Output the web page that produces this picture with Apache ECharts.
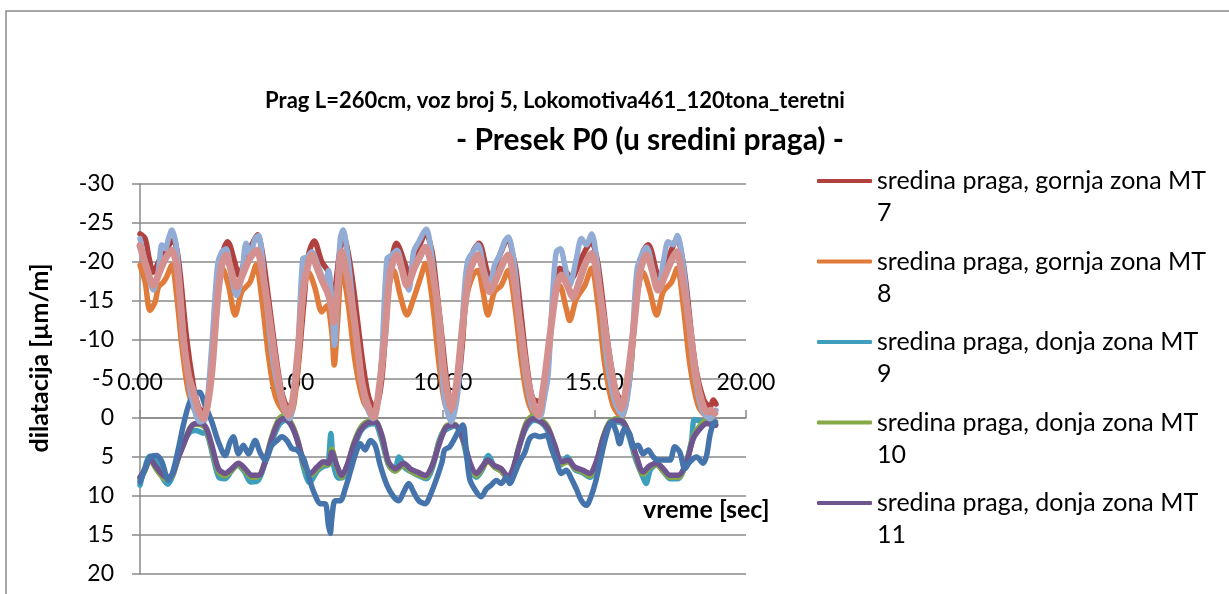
<!DOCTYPE html>
<html>
<head>
<meta charset="utf-8">
<script src="https://cdn.jsdelivr.net/npm/echarts@6/dist/echarts.min.js"></script>
<style>
  html, body { margin: 0; padding: 0; background: #fff; }
  #chart { width: 1229px; height: 594px; }
</style>
</head>
<body>
<div id="chart"></div>
<script>
// Text
const titleLine1 = 'Prag L=260cm, voz broj 5, Lokomotiva461_120tona_teretni';
const titleLine2 = '- Presek P0 (u sredini praga) -';
const xAxisTitle = 'vreme [sec]';
const yAxisTitle = 'dilatacija [µm/m]';

// Axis ranges (y axis runs from -30 at the top to 20 at the bottom)
const xRange = [0, 20, 5];
const yRange = [-30, 20, 5];

// Series names
const seriesNames = [
  'sredina praga, gornja zona MT 7',
  'sredina praga, gornja zona MT 8',
  'sredina praga, donja zona MT 9',
  'sredina praga, donja zona MT 10',
  'sredina praga, donja zona MT 11',
  'sredina praga, donja zona MT 12',
  'sredina praga, gornja zona MT 13',
  'sredina praga, gornja zona MT 14'
];

// [time s, strain µm/m]
const mt7 = [[0,-23.6],[0.17,-23.0],[0.3,-20.5],[0.44,-18.7],[0.66,-20.4],[0.88,-21.7],[1.1,-22.8],[1.22,-21.5],[1.32,-18.7],[1.54,-10.2],[1.76,-4.2],[1.9,-1.8],[2.04,-0.8],[2.2,-1.6],[2.32,-4.5],[2.42,-9.3],[2.64,-18.7],[2.75,-21.5],[2.89,-22.6],[3.14,-19.8],[3.25,-18.3],[3.52,-20.9],[3.7,-22.3],[3.88,-23.5],[4.0,-22.0],[4.13,-18.7],[4.41,-10.2],[4.63,-4.2],[4.78,-2.0],[4.9,-1.4],[5.12,-3.3],[5.4,-14.4],[5.56,-20.9],[5.75,-22.7],[6.0,-20.0],[6.22,-18.7],[6.39,-15.0],[6.5,-18.5],[6.61,-21.7],[6.74,-23.0],[6.88,-21.0],[7.05,-16.6],[7.32,-8.0],[7.5,-3.5],[7.6,-2.1],[7.76,-1.2],[7.98,-5.0],[8.2,-16.6],[8.32,-20.5],[8.46,-22.4],[8.76,-19.6],[8.87,-18.3],[9.14,-21.3],[9.45,-23.6],[9.6,-22.0],[9.69,-20.0],[9.97,-10.2],[10.1,-5.5],[10.27,-2.1],[10.49,-4.2],[10.65,-10.0],[10.77,-16.6],[10.99,-21.3],[11.19,-22.4],[11.43,-19.2],[11.54,-17.9],[11.82,-20.4],[12.15,-23.0],[12.3,-21.0],[12.42,-18.7],[12.7,-8.9],[12.85,-4.5],[12.97,-2.5],[13.19,-2.1],[13.41,-5.0],[13.63,-14.4],[13.85,-19.2],[14.07,-18.7],[14.24,-17.9],[14.51,-20.0],[14.7,-21.5],[14.9,-22.6],[15.05,-21.0],[15.17,-18.3],[15.45,-9.3],[15.72,-3.3],[15.94,-2.1],[16.16,-5.0],[16.39,-16.2],[16.6,-21.3],[16.77,-22.2],[17.05,-18.7],[17.16,-17.4],[17.43,-20.4],[17.73,-23.0],[17.9,-20.5],[18.04,-16.6],[18.31,-7.2],[18.59,-2.5],[18.81,-1.4],[18.92,-2.3],[19.01,-1.8]];

const mt8 = [[0,-19.6],[0.17,-17.4],[0.33,-13.8],[0.5,-14.9],[0.61,-16.8],[0.77,-17.4],[0.88,-18.1],[1.05,-19.6],[1.21,-15.7],[1.38,-9.3],[1.6,-3.3],[1.87,-0.35],[2.09,0.5],[2.31,-4.2],[2.53,-14.4],[2.73,-19.2],[2.92,-17.0],[3.14,-13.2],[3.36,-16.2],[3.63,-17.4],[3.83,-19.6],[4.02,-15.3],[4.24,-8.0],[4.46,-2.9],[4.74,-0.8],[4.96,-0.35],[5.18,-5.0],[5.4,-16.2],[5.56,-18.7],[5.78,-16.6],[6.0,-13.6],[6.17,-14.4],[6.33,-11.0],[6.41,-6.8],[6.52,-12.3],[6.66,-19.2],[6.88,-14.4],[7.1,-7.2],[7.38,-2.1],[7.71,-0.35],[7.98,-7.2],[8.2,-16.6],[8.37,-18.9],[8.59,-15.7],[8.81,-13.2],[9.03,-15.3],[9.25,-17.9],[9.42,-19.8],[9.64,-15.3],[9.86,-7.2],[10.05,-2.1],[10.27,0.0],[10.55,-6.8],[10.77,-15.3],[10.99,-18.3],[11.15,-18.9],[11.32,-16.2],[11.48,-13.2],[11.7,-16.2],[11.92,-17.0],[12.15,-18.9],[12.37,-14.4],[12.59,-7.2],[12.81,-2.1],[13.08,-0.1],[13.36,-3.3],[13.63,-14.4],[13.85,-17.0],[14.07,-14.0],[14.18,-12.5],[14.4,-15.3],[14.68,-17.0],[14.9,-19.2],[15.12,-14.4],[15.34,-6.8],[15.61,-1.6],[15.89,-0.1],[16.16,-5.0],[16.39,-15.3],[16.6,-18.7],[16.83,-16.2],[17.05,-13.2],[17.27,-16.2],[17.54,-17.4],[17.73,-19.2],[17.93,-14.4],[18.15,-6.8],[18.42,-1.6],[18.7,-0.35],[18.97,-0.8]];

const mt9 = [[0,8.6],[0.15,6.5],[0.33,4.9],[0.5,5.2],[0.7,7.3],[0.92,8.5],[1.1,7.2],[1.4,3.5],[1.65,1.8],[1.85,1.6],[2.05,1.9],[2.2,2.0],[2.4,4.8],[2.6,7.6],[2.8,7.8],[3.0,6.9],[3.2,6.0],[3.45,6.9],[3.65,8.2],[3.9,8.0],[4.1,6.1],[4.35,3.0],[4.6,0.8],[4.8,0.3],[5.0,1.0],[5.2,3.0],[5.4,6.4],[5.6,8.3],[5.85,6.8],[6.05,6.2],[6.2,6.0],[6.3,2.0],[6.38,5.8],[6.55,7.7],[6.7,7.6],[6.9,5.8],[7.1,3.4],[7.3,1.6],[7.5,0.9],[7.75,0.7],[7.95,2.5],[8.2,6.0],[8.4,6.8],[8.55,5.0],[8.75,6.4],[9.0,7.0],[9.2,7.4],[9.45,7.8],[9.65,6.4],[9.85,3.2],[10.0,1.8],[10.2,1.3],[10.4,1.0],[10.65,2.8],[10.85,6.0],[11.1,7.6],[11.3,6.6],[11.5,4.8],[11.7,6.3],[11.95,6.8],[12.15,7.9],[12.3,6.8],[12.5,3.8],[12.75,1.2],[13.0,0.3],[13.25,0.6],[13.45,1.6],[13.7,4.0],[13.9,6.0],[14.1,5.0],[14.35,6.6],[14.6,7.0],[14.85,7.6],[15.05,6.0],[15.28,2.8],[15.5,0.8],[15.75,0.5],[15.95,0.8],[16.15,2.5],[16.35,5.2],[16.6,7.6],[16.7,8.4],[16.85,6.6],[17.05,6.0],[17.3,7.0],[17.5,7.8],[17.75,7.8],[18.0,6.0],[18.2,3.0],[18.3,0.2],[18.5,0.4],[18.75,0.5],[19.0,0.8]];

const mt10 = [[0,7.9],[0.17,6.7],[0.33,5.3],[0.5,6.3],[0.66,7.2],[0.88,7.9],[1.05,7.5],[1.21,5.7],[1.43,3.4],[1.65,1.3],[1.82,0.8],[2.04,0.9],[2.2,1.6],[2.37,3.9],[2.59,6.9],[2.81,7.4],[3.03,6.7],[3.25,6.0],[3.47,6.8],[3.69,7.6],[3.91,7.5],[4.13,5.5],[4.35,2.4],[4.57,0.2],[4.74,-0.3],[4.96,0.4],[5.18,2.5],[5.4,5.8],[5.62,7.4],[5.84,6.6],[6.06,5.9],[6.22,6.0],[6.33,4.0],[6.5,6.3],[6.66,7.6],[6.83,6.3],[7.05,3.3],[7.27,1.3],[7.49,0.5],[7.76,0.4],[7.98,2.4],[8.2,5.9],[8.43,6.8],[8.7,6.0],[8.92,6.8],[9.14,7.2],[9.42,7.6],[9.64,6.2],[9.86,3.3],[10.02,1.6],[10.11,1.0],[10.38,0.8],[10.66,2.8],[10.88,5.9],[11.1,7.4],[11.32,6.3],[11.48,5.5],[11.7,6.3],[11.92,6.8],[12.15,7.8],[12.31,6.7],[12.53,3.3],[12.75,0.6],[12.97,-0.3],[13.25,0.2],[13.47,1.2],[13.69,3.7],[13.91,5.9],[14.13,5.6],[14.35,6.5],[14.62,6.9],[14.84,7.4],[15.06,5.7],[15.28,2.5],[15.5,0.5],[15.72,0.1],[15.94,0.4],[16.16,2.3],[16.39,5.3],[16.6,7.2],[16.83,6.3],[17.05,6.0],[17.27,6.8],[17.49,7.6],[17.76,7.6],[18.04,5.6],[18.26,2.4],[18.48,1.0],[18.7,0.3],[19.0,0.5]];

const mt11 = [[0,7.6],[0.17,6.5],[0.33,5.2],[0.5,6.1],[0.66,6.9],[0.88,7.6],[1.05,7.35],[1.21,5.6],[1.43,3.5],[1.65,1.4],[1.82,0.7],[2.04,0.7],[2.2,1.4],[2.37,3.5],[2.59,6.5],[2.81,7.1],[3.03,6.5],[3.25,5.8],[3.47,6.5],[3.69,7.35],[3.91,7.35],[4.13,5.6],[4.35,2.65],[4.57,0.5],[4.74,0.1],[4.96,0.7],[5.18,2.65],[5.4,5.6],[5.62,7.1],[5.84,6.3],[6.06,5.6],[6.22,5.8],[6.33,4.4],[6.5,6.1],[6.66,7.35],[6.83,6.1],[7.05,3.5],[7.27,1.6],[7.49,0.7],[7.76,0.5],[7.98,2.2],[8.2,5.6],[8.43,6.5],[8.7,5.8],[8.92,6.5],[9.14,6.9],[9.42,7.35],[9.64,6.1],[9.86,3.5],[10.02,1.8],[10.11,1.15],[10.38,0.94],[10.66,2.65],[10.88,5.6],[11.1,7.1],[11.32,6.1],[11.48,5.4],[11.7,6.1],[11.92,6.5],[12.15,7.56],[12.31,6.5],[12.53,3.5],[12.75,0.94],[12.97,0.1],[13.25,0.5],[13.47,1.4],[13.69,3.5],[13.91,5.6],[14.13,5.4],[14.35,6.3],[14.62,6.7],[14.84,7.1],[15.06,5.6],[15.28,2.65],[15.5,0.7],[15.72,0.3],[15.94,0.5],[16.16,2.2],[16.39,5.0],[16.6,6.9],[16.83,6.1],[17.05,5.8],[17.27,6.5],[17.49,7.35],[17.76,7.35],[18.04,5.6],[18.26,2.65],[18.48,1.4],[18.7,0.7],[19.0,0.94]];

const mt12 = [[0,8.2],[0.17,6.5],[0.33,5.0],[0.55,4.8],[0.72,5.6],[0.94,8.0],[1.1,6.7],[1.27,3.9],[1.43,0.9],[1.6,-1.6],[1.76,-2.9],[1.96,-3.3],[2.15,-1.6],[2.37,0.5],[2.59,3.1],[2.81,4.8],[2.97,3.1],[3.08,2.4],[3.25,4.6],[3.41,3.5],[3.58,4.6],[3.8,2.9],[3.96,4.4],[4.13,5.4],[4.35,3.5],[4.52,2.9],[4.68,2.4],[4.85,2.9],[5.01,3.9],[5.18,4.1],[5.4,5.2],[5.62,8.2],[5.78,9.9],[5.95,11.0],[6.11,11.0],[6.22,13.8],[6.28,14.8],[6.33,12.9],[6.44,10.6],[6.61,10.6],[6.77,9.1],[6.94,6.9],[7.1,4.8],[7.27,3.3],[7.43,4.1],[7.6,2.9],[7.76,3.5],[7.93,6.1],[8.15,8.6],[8.37,10.1],[8.54,10.6],[8.7,9.5],[8.87,8.4],[9.03,9.5],[9.2,10.6],[9.42,11.0],[9.58,9.9],[9.75,8.2],[9.97,5.6],[10.05,4.1],[10.22,3.7],[10.38,2.65],[10.55,1.4],[10.66,0.9],[10.77,4.4],[10.88,7.8],[11.04,9.1],[11.26,10.1],[11.43,9.1],[11.59,8.6],[11.76,8.0],[11.92,8.4],[12.09,7.6],[12.2,8.4],[12.37,7.1],[12.53,5.6],[12.7,4.4],[12.86,2.65],[13.03,2.2],[13.19,2.4],[13.41,2.2],[13.58,3.9],[13.74,5.6],[13.91,7.1],[14.07,6.7],[14.24,7.8],[14.4,9.1],[14.57,10.6],[14.73,11.2],[14.9,9.9],[15.06,7.8],[15.23,4.8],[15.39,2.2],[15.56,0.5],[15.72,1.8],[15.83,3.3],[15.99,1.4],[16.16,2.0],[16.28,3.7],[16.44,3.5],[16.6,4.6],[16.77,4.1],[16.94,5.0],[17.1,5.4],[17.27,5.4],[17.49,5.4],[17.65,3.7],[17.82,4.4],[17.98,6.5],[18.15,5.6],[18.37,5.0],[18.59,5.8],[18.7,4.8],[18.81,2.2],[18.92,0.7],[18.98,0.5]];

const mt13 = [[0,-23.0],[0.22,-19.2],[0.44,-16.4],[0.61,-18.9],[0.72,-22.2],[0.83,-21.7],[0.94,-23.0],[1.05,-24.1],[1.21,-21.7],[1.43,-11.0],[1.6,-5.0],[1.71,-2.5],[1.98,0.5],[2.15,0.1],[2.37,-9.3],[2.56,-19.6],[2.7,-21.3],[2.84,-21.7],[3.03,-17.9],[3.19,-15.7],[3.36,-18.3],[3.5,-22.4],[3.63,-20.9],[3.8,-23.0],[3.91,-23.4],[4.13,-16.6],[4.41,-6.8],[4.74,-1.2],[4.93,0.1],[5.18,-6.8],[5.37,-20.4],[5.51,-20.6],[5.67,-21.3],[5.89,-19.4],[6.11,-17.4],[6.22,-18.9],[6.33,-14.9],[6.42,-9.3],[6.52,-16.6],[6.61,-23.0],[6.7,-24.1],[6.88,-20.0],[7.16,-9.3],[7.43,-2.1],[7.69,0.1],[7.93,-5.0],[8.15,-20.4],[8.31,-20.9],[8.48,-21.5],[8.7,-18.3],[8.87,-16.4],[9.03,-21.3],[9.2,-22.6],[9.36,-23.8],[9.45,-24.2],[9.64,-20.4],[9.91,-9.3],[10.05,-2.5],[10.27,0.5],[10.49,-3.3],[10.71,-16.6],[10.82,-20.2],[10.99,-21.3],[11.15,-22.2],[11.37,-18.7],[11.54,-17.0],[11.7,-19.6],[11.87,-20.9],[12.03,-22.6],[12.15,-23.2],[12.37,-19.2],[12.64,-8.0],[12.92,-1.6],[13.19,-0.1],[13.36,-2.9],[13.47,-5.5],[13.63,-16.6],[13.74,-21.3],[13.87,-21.7],[14.02,-19.6],[14.18,-17.0],[14.4,-20.4],[14.57,-23.0],[14.73,-22.2],[14.9,-23.6],[15.12,-18.7],[15.39,-8.0],[15.67,-2.1],[15.92,-0.35],[16.16,-5.0],[16.39,-18.7],[16.55,-20.9],[16.72,-21.9],[16.94,-18.7],[17.1,-16.6],[17.29,-20.4],[17.43,-22.6],[17.6,-22.2],[17.73,-23.4],[17.98,-17.9],[18.26,-6.8],[18.53,-1.2],[18.81,0.1],[19.01,-1.0]];

const mt14 = [[0,-22.1],[0.2,-19.5],[0.44,-17.0],[0.65,-18.8],[0.85,-20.5],[1.05,-21.5],[1.25,-18.5],[1.43,-10.2],[1.6,-5.5],[1.76,-3.3],[1.95,-0.8],[2.09,0.1],[2.22,-1.5],[2.37,-5.9],[2.5,-12.5],[2.59,-16.6],[2.7,-19.6],[2.84,-20.9],[3.0,-19.0],[3.19,-16.8],[3.4,-18.5],[3.6,-20.3],[3.85,-21.5],[4.05,-18.5],[4.24,-13.6],[4.4,-9.0],[4.52,-5.9],[4.7,-2.3],[4.9,-0.35],[5.05,-2.5],[5.23,-9.3],[5.35,-15.0],[5.45,-17.9],[5.67,-20.9],[5.85,-19.2],[6.0,-17.7],[6.2,-16.0],[6.33,-14.0],[6.4,-12.3],[6.5,-15.5],[6.66,-21.3],[6.85,-18.0],[7.05,-13.2],[7.2,-8.5],[7.32,-4.6],[7.5,-1.8],[7.71,-0.1],[7.9,-4.0],[8.09,-11.0],[8.26,-18.7],[8.48,-20.9],[8.65,-19.0],[8.81,-17.0],[9.05,-19.2],[9.25,-20.8],[9.42,-21.9],[9.62,-19.5],[9.86,-13.2],[10.0,-7.0],[10.15,-3.0],[10.27,-1.2],[10.45,-4.5],[10.66,-12.3],[10.88,-18.7],[11.15,-20.9],[11.35,-18.5],[11.54,-16.2],[11.8,-18.2],[12.0,-20.0],[12.15,-20.9],[12.35,-17.5],[12.53,-12.3],[12.81,-4.6],[13.0,-1.5],[13.14,-0.35],[13.3,-3.5],[13.52,-10.2],[13.74,-16.6],[13.91,-18.3],[14.1,-17.0],[14.29,-15.5],[14.5,-17.5],[14.7,-19.8],[14.9,-21.1],[15.1,-18.0],[15.28,-13.2],[15.56,-5.9],[15.75,-2.5],[15.89,-1.2],[16.05,-4.0],[16.28,-11.0],[16.5,-18.7],[16.72,-20.9],[16.9,-19.0],[17.1,-16.4],[17.35,-18.5],[17.55,-20.3],[17.71,-21.3],[17.9,-18.0],[18.09,-13.2],[18.37,-5.0],[18.55,-2.0],[18.7,-0.8],[18.85,-1.0],[18.97,-0.6]];

const seriesData = [mt7, mt8, mt9, mt10, mt11, mt12, mt13, mt14];
const seriesColors = ['#B0413E', '#E07B39', '#3E9FBD', '#86A846', '#6F558F', '#4573AC', '#93ACD5', '#D4908F'];
const seriesWidths = [5.5, 5.5, 5.5, 5.5, 5.5, 5.5, 5.5, 7];
const legendNames = seriesNames.slice(0, 5);

const FONT = 'Lato, "Liberation Sans", sans-serif';
const GRID_GREY = '#8A8A8A';
const tickFormat = v => v.toFixed(2);

const chart = echarts.init(document.getElementById('chart'));

chart.setOption({
  animation: false,
  backgroundColor: '#fff',
  textStyle: { fontFamily: FONT, color: '#000' },
  graphic: [
    {
      // chart area frame
      type: 'rect',
      silent: true,
      z: -10,
      shape: { x: 6, y: 11, width: 1400, height: 800 },
      style: { fill: 'none', stroke: '#8A8A8A', lineWidth: 1.5 }
    },
    {
      // horizontal axis title
      type: 'text',
      silent: true,
      style: {
        text: xAxisTitle, x: 643, y: 510,
        font: 'bold 25px ' + FONT, fill: '#000',
        align: 'left', verticalAlign: 'middle'
      }
    }
  ],
  title: [
    {
      text: titleLine1, left: 555, top: 88, textAlign: 'center', padding: 0,
      textStyle: { fontFamily: FONT, fontSize: 22, fontWeight: 'bold', color: '#000', lineHeight: 26 }
    },
    {
      text: titleLine2, left: 650, top: 123, textAlign: 'center', padding: 0,
      textStyle: { fontFamily: FONT, fontSize: 30, fontWeight: 'bold', color: '#000', lineHeight: 34 }
    }
  ],
  legend: {
    orient: 'vertical',
    left: 817,
    top: 133,
    padding: 0,
    height: 440,
    itemWidth: 55,
    itemHeight: 4,
    itemGap: -15.5,
    icon: 'roundRect',
    data: legendNames,
    // wrap after "MT"; the leading blank line keeps the first line level with the key
    formatter: n => '\n' + n.replace(' MT ', ' MT\n'),
    textStyle: { fontFamily: FONT, fontSize: 25, color: '#000', lineHeight: 32 }
  },
  grid: { left: 140, top: 184, width: 606, height: 390, containLabel: false },
  xAxis: [
    {
      // axis line through zero with upward ticks
      type: 'value',
      min: xRange[0], max: xRange[1], interval: xRange[2],
      axisLine: { show: true, onZero: true, lineStyle: { color: GRID_GREY, width: 1.5 } },
      axisTick: { show: true, inside: true, length: 8, lineStyle: { color: GRID_GREY, width: 1.5 } },
      splitLine: { show: false },
      axisLabel: { show: false }
    },
    {
      // tick labels sitting just above the zero line
      type: 'value',
      position: 'top',
      offset: -234,
      min: xRange[0], max: xRange[1], interval: xRange[2],
      axisLine: { show: false },
      axisTick: { show: false },
      splitLine: { show: false },
      axisLabel: { margin: 24, color: '#000', fontFamily: FONT, fontSize: 23, formatter: tickFormat }
    }
  ],
  yAxis: {
    type: 'value',
    inverse: true,
    min: yRange[0], max: yRange[1], interval: yRange[2],
    axisLine: { show: true, lineStyle: { color: GRID_GREY, width: 1.5 } },
    axisTick: { show: true, length: 8, lineStyle: { color: GRID_GREY, width: 1.5 } },
    splitLine: { show: true, lineStyle: { color: GRID_GREY, width: 1.5 } },
    axisLabel: { margin: 26, color: '#000', fontFamily: FONT, fontSize: 23 },
    name: yAxisTitle,
    nameLocation: 'middle',
    nameGap: 88,
    nameRotate: 90,
    nameTextStyle: {
      fontFamily: FONT, fontSize: 25, fontWeight: 'bold', color: '#000',
      padding: [0, 0, 0, 42]
    }
  },
  series: seriesData.map((d, i) => ({
    type: 'line',
    name: seriesNames[i],
    data: d,
    xAxisIndex: 0,
    showSymbol: false,
    smooth: 0.3,
    color: seriesColors[i],
    lineStyle: { width: seriesWidths[i], color: seriesColors[i], cap: 'round', join: 'round' },
    emphasis: { disabled: true }
  }))
});
</script>
</body>
</html>
